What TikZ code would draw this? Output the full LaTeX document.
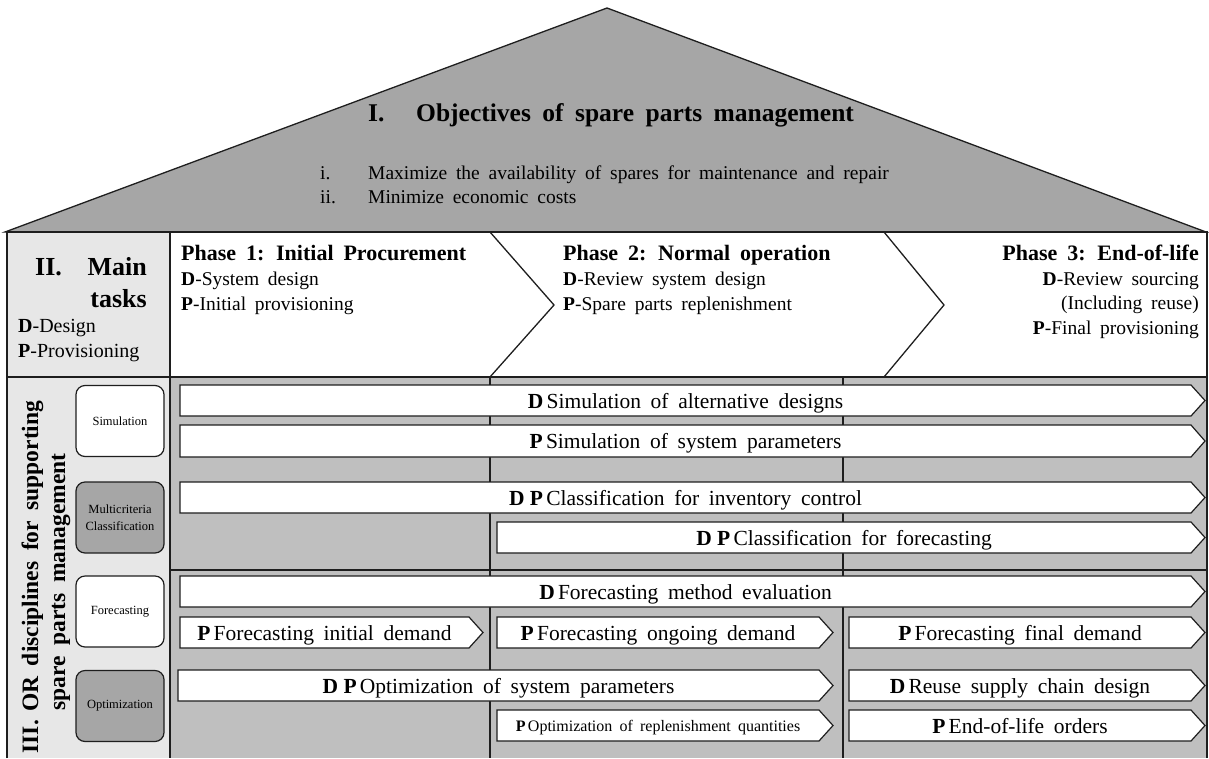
\documentclass[tikz,border=0pt]{standalone}
\usepackage{fontspec}
\setmainfont{Liberation Serif}[WordSpace=1.8]
\usetikzlibrary{calc}

\definecolor{roofgray}{HTML}{A6A6A6}
\definecolor{panelgray}{HTML}{E7E7E7}
\definecolor{fieldgray}{HTML}{BFBFBF}
\definecolor{boxgray}{HTML}{A6A6A6}
\definecolor{ink}{HTML}{1E1E1E}

\newcommand{\fs}[1]{\fontsize{#1}{#1}\selectfont}
\newcommand{\tg}[1]{\textbf{#1}\hspace{0.15em}}
\newcommand{\dpair}{D\hspace{0.25em}P}

\tikzset{
  frame/.style={draw=ink, line width=1.3pt},
  divider/.style={draw=ink, line width=2pt},
  tagbox/.style={draw=ink, line width=1.2pt, fill=white},
  tagtext/.style={inner sep=0pt, anchor=base, font=\fs{21.5}},
  smalltag/.style={inner sep=0pt, anchor=base, font=\fs{16}},
  discbox/.style={draw=ink, line width=1.2pt, rounded corners=9pt,
    minimum width=88pt, minimum height=71pt, inner sep=0pt, align=center,
    font=\fontsize{12.5}{16.5}\selectfont},
  txt/.style={inner sep=0pt},
}

% pointed label box: [text style]{name}{x1}{y1}{x2}{y2}{baseline shift}{text}
\newcommand{\tagarrow}[8][tagtext]{%
  \draw[tagbox] (#3,#4) -- ({#5-14},#4) -- (#5,{(#4+#6)/2}) -- ({#5-14},#6) -- (#3,#6) -- cycle;
  \node[#1] (#2) at ({(#3+#5-14)/2},{(#4+#6)/2+#7}) {#8};}

\begin{document}
\begin{tikzpicture}[x=1pt, y=-1pt]
\useasboundingbox (0,0) rectangle (1209,758);

% roof: objectives
\draw[frame, fill=roofgray] (5,232) -- (607,8) -- (1206,232) -- cycle;
\node[txt, anchor=base west, font=\fs{25.5}\bfseries] (objnum) at (368,121) {I.};
\node[txt, anchor=base west, font=\fs{25.5}\bfseries] (objtitle) at (416,121) {Objectives of spare parts management};
\node[txt, anchor=base west, font=\fs{19.5}] (inum1) at (320,179) {i.};
\node[txt, anchor=base west, font=\fs{19.5}] (item1) at (368,179) {Maximize the availability of spares for maintenance and repair};
\node[txt, anchor=base west, font=\fs{19.5}] (inum2) at (320,203) {ii.};
\node[txt, anchor=base west, font=\fs{19.5}] (item2) at (368,203) {Minimize economic costs};

% backgrounds of the two lower sections
\fill[panelgray] (7,232) rectangle (170,758);
\fill[white] (170,232) rectangle (1207,377);
\fill[fieldgray] (170,377) rectangle (1207,758);

% phase chevrons
\draw[frame] (490,232) -- (554,305) -- (490,377);
\draw[frame] (884,232) -- (944,305) -- (884,377);

% frame and dividers
\draw[frame] (7,758) -- (7,232) -- (1207,232) -- (1207,758);
\draw[frame] (7,377) -- (1207,377);
\draw[frame] (170,232) -- (170,758);
\draw[frame] (170,570) -- (1207,570);
\draw[divider] (490,377) -- (490,758);
\draw[divider] (843,377) -- (843,758);

% main tasks
\node[txt, anchor=base west, font=\fs{26}\bfseries] (mtnum) at (35,275) {II.};
\node[txt, anchor=base east, font=\fs{26}\bfseries] (mtmain) at (147,275) {Main};
\node[txt, anchor=base east, font=\fs{26}\bfseries] (mttasks) at (147,307) {tasks};
\node[txt, anchor=base west, font=\fs{20}] (mtd) at (18,332) {\textbf{D}-Design};
\node[txt, anchor=base west, font=\fs{20}] (mtp) at (18,357) {\textbf{P}-Provisioning};

% phases
\node[txt, anchor=base west, font=\fs{22}\bfseries] (ph1) at (181,260) {Phase 1: Initial Procurement};
\node[txt, anchor=base west, font=\fs{19.5}] (ph1d) at (181,285) {\textbf{D}-System design};
\node[txt, anchor=base west, font=\fs{19.5}] (ph1p) at (181,310) {\textbf{P}-Initial provisioning};
\node[txt, anchor=base west, font=\fs{22}\bfseries] (ph2) at (563,260) {Phase 2: Normal operation};
\node[txt, anchor=base west, font=\fs{19.5}] (ph2d) at (563,285) {\textbf{D}-Review system design};
\node[txt, anchor=base west, font=\fs{19.5}] (ph2p) at (563,310) {\textbf{P}-Spare parts replenishment};
\node[txt, anchor=base east, font=\fs{22}\bfseries] (ph3) at (1199,260) {Phase 3: End-of-life};
\node[txt, anchor=base east, font=\fs{19.5}] (ph3d) at (1199,285) {\textbf{D}-Review sourcing};
\node[txt, anchor=base east, font=\fs{19.5}] (ph3r) at (1199,309) {(Including reuse)};
\node[txt, anchor=base east, font=\fs{19.5}] (ph3p) at (1199,334) {\textbf{P}-Final provisioning};

% OR disciplines
\node[txt, rotate=90, anchor=base, font=\fs{23.5}\bfseries] (orl1) at (38,577) {III.\hspace{0.35em}OR disciplines for supporting};
\node[txt, rotate=90, anchor=base, font=\fs{23.5}\bfseries] (orl2) at (65,582) {spare parts management};

\node[discbox, fill=white] (dsim) at (120,421) {Simulation};
\node[discbox, fill=boxgray] (dmcc) at (120,517.5) {Multicriteria\\Classification};
\node[discbox, fill=white] (dfc) at (120,611.5) {Forecasting};
\node[discbox, fill=boxgray] (dopt) at (120,706) {Optimization};

% supporting methods
\tagarrow{simd}{180}{385}{1205}{416}{7.5}{\tg{D}Simulation of alternative designs}
\tagarrow{simp}{180}{425}{1205}{457}{7.5}{\tg{P}Simulation of system parameters}
\tagarrow{clsinv}{180}{482}{1205}{513}{7.5}{\tg{\dpair}Classification for inventory control}
\tagarrow{clsfc}{497}{522}{1205}{553}{7.5}{\tg{\dpair}Classification for forecasting}
\tagarrow{fcme}{180}{576}{1205}{607}{7.5}{\tg{D}Forecasting method evaluation}
\tagarrow{fci}{180}{617}{483}{648}{7.5}{\tg{P}Forecasting initial demand}
\tagarrow{fco}{497}{617}{833}{648}{7.5}{\tg{P}Forecasting ongoing demand}
\tagarrow{fcf}{849}{617}{1205}{648}{7.5}{\tg{P}Forecasting final demand}
\tagarrow{optsys}{178}{670}{833}{701}{7.5}{\tg{\dpair}Optimization of system parameters}
\tagarrow{reuse}{849}{670}{1205}{701}{7.5}{\tg{D}Reuse supply chain design}
\tagarrow[smalltag]{optrep}{497}{710}{833}{741}{6}{\tg{P}Optimization of replenishment quantities}
\tagarrow{eol}{849}{710}{1205}{741}{7.5}{\tg{P}End-of-life orders}
\end{tikzpicture}
\end{document}
